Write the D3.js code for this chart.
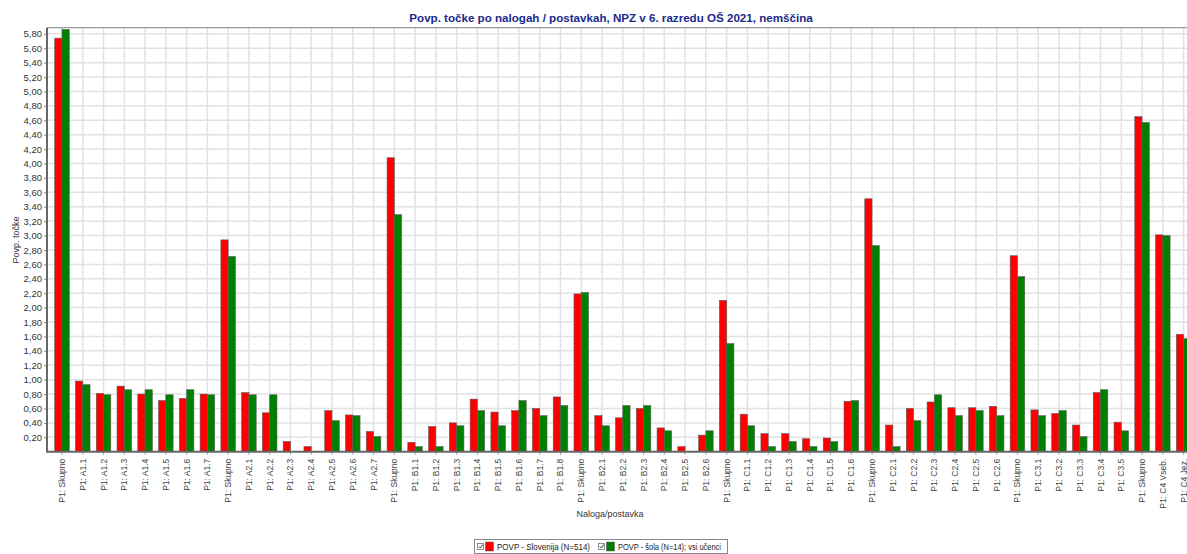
<!DOCTYPE html>
<html><head><meta charset="utf-8">
<script src="https://cdn.jsdelivr.net/npm/d3@7"></script>
<style>
html,body{margin:0;padding:0;background:#fff;overflow:hidden;}
text{font-family:"Liberation Sans",Arial,sans-serif;}
</style></head>
<body>
<svg id="chart" width="1187" height="554"></svg>
<script>
const categories = ["P1: Skupno","P1: A1.1","P1: A1.2","P1: A1.3","P1: A1.4","P1: A1.5","P1: A1.6","P1: A1.7",
"P1: Skupno","P1: A2.1","P1: A2.2","P1: A2.3","P1: A2.4","P1: A2.5","P1: A2.6","P1: A2.7",
"P1: Skupno","P1: B1.1","P1: B1.2","P1: B1.3","P1: B1.4","P1: B1.5","P1: B1.6","P1: B1.7","P1: B1.8",
"P1: Skupno","P1: B2.1","P1: B2.2","P1: B2.3","P1: B2.4","P1: B2.5","P1: B2.6",
"P1: Skupno","P1: C1.1","P1: C1.2","P1: C1.3","P1: C1.4","P1: C1.5","P1: C1.6",
"P1: Skupno","P1: C2.1","P1: C2.2","P1: C2.3","P1: C2.4","P1: C2.5","P1: C2.6",
"P1: Skupno","P1: C3.1","P1: C3.2","P1: C3.3","P1: C3.4","P1: C3.5",
"P1: Skupno","P1: C4 Vseb.","P1: C4 Jez."];
const slovenija = [5.74,0.98,0.81,0.91,0.80,0.71,0.74,0.80,
2.94,0.82,0.54,0.14,0.07,0.57,0.51,0.28,
4.08,0.13,0.35,0.40,0.73,0.55,0.57,0.60,0.76,
2.19,0.50,0.47,0.60,0.33,0.07,0.23,
2.10,0.52,0.25,0.25,0.18,0.19,0.70,
3.51,0.37,0.60,0.69,0.61,0.61,0.63,
2.72,0.58,0.53,0.37,0.82,0.41,
4.65,3.01,1.63];
const sola = [5.86,0.93,0.79,0.86,0.86,0.79,0.86,0.79,
2.71,0.79,0.79,0,0,0.43,0.50,0.21,
3.29,0.07,0.07,0.36,0.57,0.36,0.71,0.50,0.64,
2.21,0.36,0.64,0.64,0.29,0,0.29,
1.50,0.36,0.07,0.14,0.07,0.14,0.71,
2.86,0.07,0.43,0.79,0.50,0.57,0.50,
2.43,0.50,0.57,0.21,0.86,0.29,
4.57,3.00,1.57];
const seriesNames = ["POVP - Slovenija (N=514)","POVP - šola (N=14); vsi učenci"];
const seriesColors = ["#ff0000","#008000"];
const yTicks = [0.2,0.4,0.6,0.8,1.0,1.2,1.4,1.6,1.8,2.0,2.2,2.4,2.6,2.8,3.0,3.2,3.4,3.6,3.8,4.0,4.2,4.4,4.6,4.8,5.0,5.2,5.4,5.6,5.8];
const titleText = "Povp. točke po nalogah / postavkah, NPZ v 6. razredu OŠ 2021, nemščina";

const svg = d3.select("#chart");
const L = 47, T = 27.7, B = 451.7, R = 1198.6;
const idx = d3.range(categories.length);
const x = d3.scaleBand().domain(idx).range([L, R]).paddingInner(0.3).paddingOuter(0.372);
const xs = d3.scaleBand().domain([0,1]).range([0, x.bandwidth()]);
const y = d3.scaleLinear().domain([0, 5.885]).range([B, T]);
const cx = i => x(i) + x.bandwidth()/2;

// grid
const g = svg.append("g");
g.selectAll("line.hg").data(yTicks).join("line")
  .attr("x1", L).attr("x2", 1187).attr("y1", d=>y(d)).attr("y2", d=>y(d))
  .attr("stroke", "#e2e2e2").attr("stroke-width", 1.5);
g.selectAll("line.vg").data(idx).join("line")
  .attr("x1", d=>cx(d)).attr("x2", d=>cx(d)).attr("y1", T).attr("y2", B)
  .attr("stroke", "#e2e2e2").attr("stroke-width", 1.5);
g.append("line").attr("x1", L).attr("x2", 1187).attr("y1", T).attr("y2", T).attr("stroke", "#999").attr("stroke-width", 1.2);

// bars
const data = idx.map(i => ({i, vals:[slovenija[i], sola[i]]}));
const grp = svg.append("g").selectAll("g").data(data).join("g")
  .attr("transform", d => `translate(${x(d.i)},0)`);
grp.selectAll("rect").data(d => d.vals.map((v,k)=>({v,k}))).join("rect")
  .filter(d => d.v > 0)
  .attr("x", d => xs(d.k)).attr("width", xs.bandwidth())
  .attr("y", d => y(d.v)).attr("height", d => B - y(d.v))
  .attr("fill", d => seriesColors[d.k]).attr("stroke", "#5a5a5a").attr("stroke-width", 0.6);

// y axis
const fmt = d => d3.format(".2f")(d).replace(".", ",");
const yAxis = svg.append("g").attr("transform", `translate(${L},0)`)
  .call(d3.axisLeft(y).tickValues(yTicks).tickFormat(fmt).tickSize(3).tickPadding(2));
yAxis.select(".domain").remove();
yAxis.selectAll(".tick line").attr("stroke", "#888");
yAxis.selectAll("text").attr("font-size", 9.5).attr("fill", "#333");
svg.append("line").attr("x1", L).attr("x2", L).attr("y1", T).attr("y2", B+1).attr("stroke", "#666").attr("stroke-width", 2);

// x axis
const xAxis = svg.append("g").attr("transform", `translate(0,${B})`)
  .call(d3.axisBottom(x).tickFormat(i => categories[i]).tickSize(3).tickPadding(4));
xAxis.select(".domain").remove();
xAxis.selectAll(".tick line").attr("stroke", "#999");
xAxis.selectAll("text").attr("font-size", 8.5).attr("fill", "#444")
  .attr("text-anchor", "end").attr("transform", "rotate(-90)")
  .attr("x", -7).attr("y", 0).attr("dy", "0.35em");
svg.append("line").attr("x1", L).attr("x2", 1187).attr("y1", B).attr("y2", B).attr("stroke", "#666").attr("stroke-width", 2);

// title
svg.append("text").attr("x", 611).attr("y", 21.5).attr("text-anchor", "middle")
  .attr("font-size", 11.6).attr("font-weight", "bold").attr("fill", "#1b2a8a").text(titleText);
// axis titles
svg.append("text").attr("transform", "translate(19,240) rotate(-90)").attr("text-anchor", "middle")
  .attr("font-size", 9).attr("fill", "#333").text("Povp. točke");
svg.append("text").attr("x", 610).attr("y", 517).attr("text-anchor", "middle")
  .attr("font-size", 9).attr("fill", "#333").text("Naloga/postavka");

// legend
const lg = svg.append("g").attr("transform", "translate(474,539)");
lg.append("rect").attr("x", 0.5).attr("y", 0.5).attr("width", 253).attr("height", 14)
  .attr("fill", "#fff").attr("stroke", "#888");
const itemX = [3, 124];
const textW = [93, 103];
seriesNames.forEach((name, k) => {
  const it = lg.append("g").attr("transform", `translate(${itemX[k]},0)`);
  it.append("rect").attr("x", 0.5).attr("y", 4.5).attr("width", 6).attr("height", 6).attr("fill", "#fff").attr("stroke", "#777").attr("stroke-width", 0.8);
  it.append("path").attr("d", "M1.8,7.5 L3.3,9 L5.8,5.5").attr("fill", "none").attr("stroke", "#333").attr("stroke-width", 1);
  it.append("rect").attr("x", 8.5).attr("y", 3).attr("width", 8).attr("height", 9).attr("fill", seriesColors[k]).attr("stroke", "#555").attr("stroke-width", 0.5);
  it.append("text").attr("x", 20).attr("y", 11).attr("font-size", 8.4).attr("fill", "#222")
    .attr("textLength", textW[k]).attr("lengthAdjust", "spacingAndGlyphs").text(name);
});
</script>
</body></html>
